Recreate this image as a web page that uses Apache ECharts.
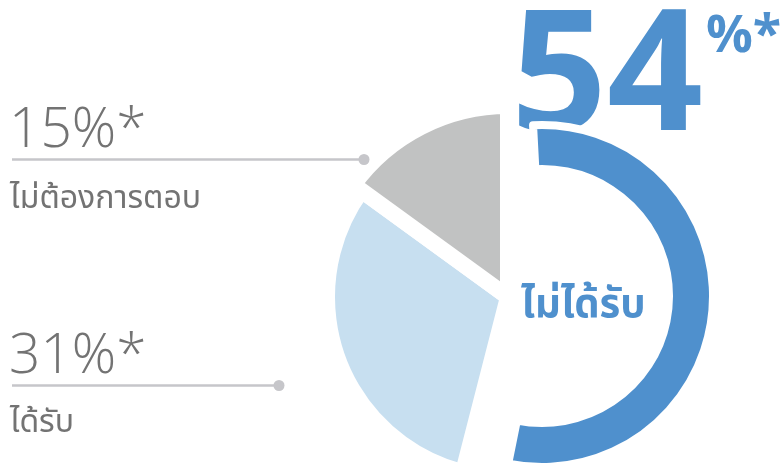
<!DOCTYPE html>
<html lang="th">
<head>
    <meta charset="UTF-8">
    <title>ไม่ได้รับ</title>
    <script src="https://cdn.jsdelivr.net/npm/echarts@6/dist/echarts.min.js"></script>
    <style>
        html, body { margin: 0; padding: 0; background: #fff; }
        #chart1 { width: 784px; height: 464px; }
    </style>
</head>
<body>
<div id="chart1"></div>
<script type="text/javascript">
    // ข้อมูล
    var categories = ['ไม่ได้รับ', 'ได้รับ', 'ไม่ต้องการตอบ'];
    var shares = [54, 31, 15];
    var shareLabels = ['54', '31%*', '15%*'];

    var colors = ['#4f90cd', '#c7dff0', '#c1c2c2'];
    var thaiFont = "'Noto Sans Thai', 'Noto Sans', 'DejaVu Sans', sans-serif";
    var numFont = "'Open Sans', 'Noto Sans', sans-serif";

    // แสดงเฉพาะชิ้นที่ต้องการ ชิ้นอื่นโปร่งใส
    function onlySlice(idx, style) {
        var data = [];
        for (var i = 0; i < shares.length; i++) {
            data.push({
                name: categories[i],
                value: shares[i],
                itemStyle: i === idx ? style : {color: 'transparent', borderWidth: 0}
            });
        }
        return data;
    }

    function pieSeries(idx, center, radius, startAngle, style) {
        return {
            type: 'pie',
            silent: true,
            center: center,
            radius: radius,
            startAngle: startAngle,
            label: {show: false},
            labelLine: {show: false},
            emphasis: {disabled: true},
            data: onlySlice(idx, style)
        };
    }

    var myChart = echarts.init(document.getElementById('chart1'));
    var option = {
        animation: false,
        graphic: [
            // 54%*
            {type: 'text', x: 511, y: 82, style: {text: shareLabels[0], font: 'bold 168px ' + numFont, fill: colors[0], textVerticalAlign: 'middle'}},
            {type: 'text', x: 706, y: 37, style: {text: '%*', font: 'bold 52px ' + numFont, fill: colors[0], textVerticalAlign: 'middle'}},
            {type: 'text', x: 521, y: 309, z: 10, style: {text: categories[0], font: 'bold 40px ' + thaiFont, fill: colors[0], textVerticalAlign: 'middle'}},
            // 15%*
            {type: 'text', x: 9, y: 131, style: {text: shareLabels[2], font: '300 55px ' + numFont, fill: '#737373', textVerticalAlign: 'middle'}},
            {type: 'line', z: 10, shape: {x1: 12, y1: 159.5, x2: 364, y2: 159.5}, style: {stroke: '#c6c6ca', lineWidth: 2.5}},
            {type: 'circle', z: 10, shape: {cx: 364, cy: 159.5, r: 5.5}, style: {fill: '#c6c6ca'}},
            {type: 'text', x: 10, y: 202, style: {text: categories[2], font: '32px ' + thaiFont, fill: '#737373', textVerticalAlign: 'middle'}},
            // 31%*
            {type: 'text', x: 9, y: 357, style: {text: shareLabels[1], font: '300 55px ' + numFont, fill: '#737373', textVerticalAlign: 'middle'}},
            {type: 'line', z: 10, shape: {x1: 12, y1: 385.5, x2: 279, y2: 385.5}, style: {stroke: '#c6c6ca', lineWidth: 2.5}},
            {type: 'circle', z: 10, shape: {cx: 279, cy: 385.5, r: 5.5}, style: {fill: '#c6c6ca'}},
            {type: 'text', x: 10, y: 426, style: {text: categories[1], font: '32px ' + thaiFont, fill: '#737373', textVerticalAlign: 'middle'}}
        ],
        series: [
            pieSeries(1, [508, 297], 181, 90, {color: colors[1], borderColor: '#fff', borderWidth: 16}),
            pieSeries(2, [508, 297], 191, 90, {color: colors[2], borderColor: '#fff', borderWidth: 16}),
            pieSeries(0, [542, 296], [127, 171], 93, {color: colors[0], borderColor: '#fff', borderWidth: 8})
        ]
    };
    myChart.setOption(option);
</script>
</body>
</html>
